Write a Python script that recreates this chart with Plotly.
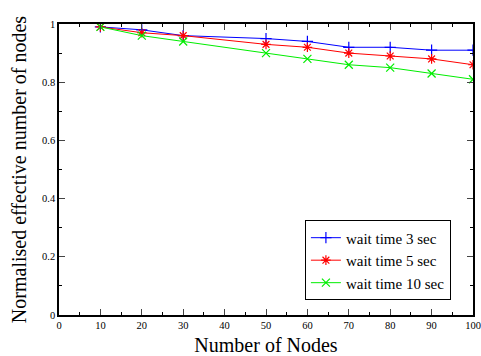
import plotly.graph_objects as go

nodes = [10, 20, 30, 50, 60, 70, 80, 90, 100]
wait3 = [0.99, 0.98, 0.96, 0.95, 0.94, 0.92, 0.92, 0.91, 0.91]
wait5 = [0.99, 0.97, 0.96, 0.93, 0.92, 0.90, 0.89, 0.88, 0.86]
wait10 = [0.99, 0.96, 0.94, 0.90, 0.88, 0.86, 0.85, 0.83, 0.81]
names = ["wait time 3 sec", "wait time 5 sec", "wait time 10 sec"]
colors = ["#0000ff", "#ff0000", "#00ee00"]
symbols = ["cross-thin", "asterisk", "x-thin"]

fig = go.Figure()
for ys, nm, c, s in zip([wait3, wait5, wait10], names, colors, symbols):
    fig.add_trace(go.Scatter(
        x=nodes, y=ys, name=nm, mode="lines+markers",
        line=dict(color=c, width=1),
        marker=dict(symbol=s, size=8, color=c, line=dict(color=c, width=1.2)),
    ))

font = "Liberation Serif"
fig.update_layout(
    width=481, height=356,
    margin=dict(l=59, r=8, t=24, b=41),
    paper_bgcolor="white", plot_bgcolor="white",
    font=dict(family=font, color="black", size=10),
    showlegend=True,
    legend=dict(x=0.594, y=0.325, xanchor="left", yanchor="top",
                bordercolor="black", borderwidth=1, bgcolor="white",
                font=dict(size=15, family=font), tracegroupgap=0,
                itemwidth=30),
)
fig.update_xaxes(
    range=[0, 100], dtick=10, tick0=0, ticks="inside", ticklen=6,
    showgrid=False, zeroline=False, showline=True, linecolor="black", linewidth=1.5,
    mirror="allticks", tickfont=dict(size=10.5, family=font), automargin=False,
    ticklabeloverflow="allow",
    minor=dict(ticks="inside", dtick=5, ticklen=3, tickcolor="black"),
    title=dict(text="Number of Nodes", font=dict(size=20, family=font), standoff=12),
)
fig.update_yaxes(
    range=[0, 1], dtick=0.2, tick0=0, ticks="inside", ticklen=6,
    showgrid=False, zeroline=False, showline=True, linecolor="black", linewidth=1.5,
    mirror="allticks", tickfont=dict(size=10.5, family=font), automargin=False,
    ticklabeloverflow="allow",
    minor=dict(ticks="inside", dtick=0.1, ticklen=3, tickcolor="black"),
    title=dict(text="Normalised effective number of nodes", font=dict(size=20, family=font), standoff=10),
)
fig.write_html("out.html")
